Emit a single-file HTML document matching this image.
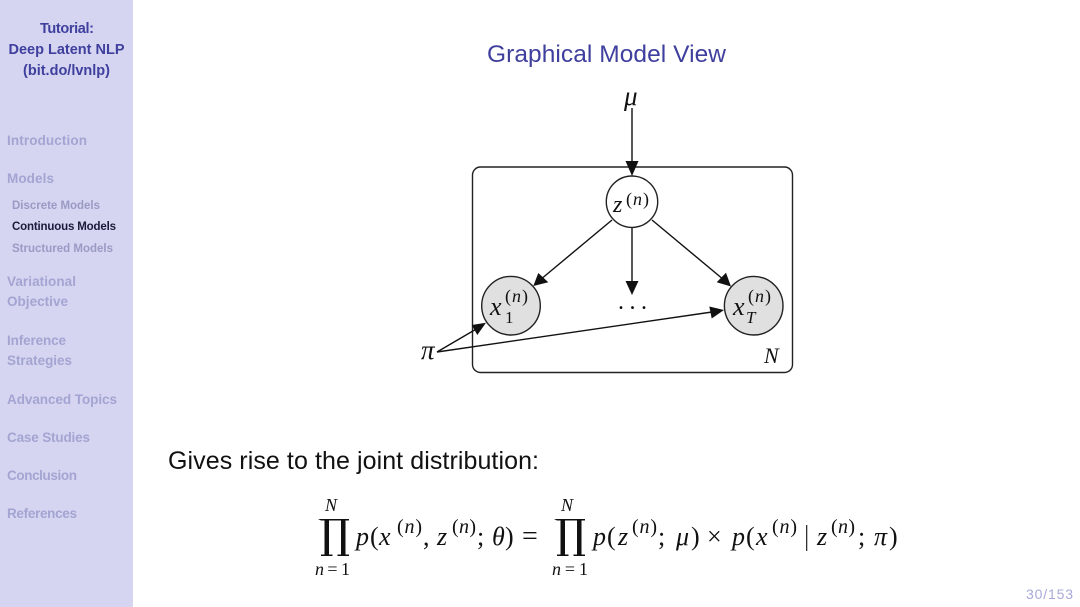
<!DOCTYPE html>
<html><head><meta charset="utf-8"><style>
html,body{margin:0;padding:0;background:#fff}
svg{display:block}
.s{font-family:"Liberation Sans",sans-serif}
.n{font-size:13.500px;font-weight:bold;fill:#a4a4d2}
.u{font-size:11.500px;font-weight:bold;fill:#9a9ac4}
.m{font-family:"Liberation Serif",serif;font-style:italic;fill:#111}
.r{font-family:"Liberation Serif",serif;fill:#111}
</style></head><body>
<svg width="1080" height="607" viewBox="0 0 1080 607" xmlns="http://www.w3.org/2000/svg">
<rect width="1080" height="607" fill="#fff"/>
<rect width="133" height="607" fill="#d5d5f1"/>
<g class="s" font-size="14.500" font-weight="bold" fill="#3f3f9e">
<text x="40" y="33" textLength="54">Tutorial:</text>
<text x="8.500" y="54" textLength="116">Deep Latent NLP</text>
<text x="23" y="75" textLength="87">(bit.do/lvnlp)</text></g>
<g class="s">
<text class="n" x="7" y="145" textLength="80">Introduction</text>
<text class="n" x="7" y="183" textLength="47">Models</text>
<text class="u" x="12" y="209" textLength="88">Discrete Models</text>
<text class="u" x="12" y="230" textLength="104" style="fill:#1a1a3a">Continuous Models</text>
<text class="u" x="12" y="252" textLength="101">Structured Models</text>
<text class="n" x="7" y="286" textLength="69">Variational</text>
<text class="n" x="7" y="306" textLength="61">Objective</text>
<text class="n" x="7" y="345" textLength="59">Inference</text>
<text class="n" x="7" y="365" textLength="65">Strategies</text>
<text class="n" x="7" y="404" textLength="110">Advanced Topics</text>
<text class="n" x="7" y="442" textLength="83">Case Studies</text>
<text class="n" x="7" y="480" textLength="70">Conclusion</text>
<text class="n" x="7" y="518" textLength="70">References</text>
</g>
<text class="s" x="487" y="62" font-size="24.500" fill="#3f3f9e" textLength="239">Graphical Model View</text>
<text class="s" x="168" y="469" font-size="25" fill="#111" textLength="371">Gives rise to the joint distribution:</text>
<text class="s" x="1026" y="599" font-size="14" fill="#a8a8d8" textLength="47">30/153</text>

<!-- diagram -->
<rect x="472.500" y="167" width="320" height="205.500" rx="8" fill="none" stroke="#222" stroke-width="1.400"/>
<circle cx="632" cy="201.700" r="25.700" fill="#fff" stroke="#222" stroke-width="1.400"/>
<circle cx="511" cy="305.700" r="29.300" fill="#e0e0e0" stroke="#222" stroke-width="1.400"/>
<circle cx="753.700" cy="305.700" r="29.300" fill="#e0e0e0" stroke="#222" stroke-width="1.400"/>
<g stroke="#111" stroke-width="1.400" fill="none">
<line x1="632" y1="108" x2="632" y2="165"/>
<line x1="612" y1="220" x2="540" y2="280"/>
<line x1="632" y1="228" x2="632" y2="285"/>
<line x1="652" y1="220" x2="724" y2="280"/>
<line x1="437" y1="352" x2="478" y2="328"/>
<line x1="437" y1="352" x2="712" y2="312"/>
</g>
<g fill="#111">
<polygon points="632,176 625.500,161 638.500,161"/>
<polygon points="533.300,286 538.300,273 548.300,282.300"/>
<polygon points="632,295 625.500,281 638.500,281"/>
<polygon points="731,286.500 716.700,282.300 726,272.700"/>
<polygon points="486,322.700 471.700,325 477.300,335"/>
<polygon points="724,310 709.300,306.500 711.700,318.500"/>
</g>
<text class="m" x="624" y="105" font-size="27">μ</text>
<text class="m" x="421" y="359" font-size="27">π</text>
<text class="m" x="764" y="363" font-size="22" textLength="17">N</text>
<text class="r" x="618" y="309" font-size="24" letter-spacing="5.500">...</text>
<text class="m" x="613" y="212" font-size="24">z</text>
<text class="r" x="626" y="205" font-size="18" textLength="23">(<tspan font-style="italic">n</tspan>)</text>
<text class="m" x="490" y="315" font-size="26">x</text>
<text class="r" x="505" y="302" font-size="18" textLength="23">(<tspan font-style="italic">n</tspan>)</text>
<text class="r" x="505" y="323" font-size="17">1</text>
<text class="m" x="733" y="315" font-size="26">x</text>
<text class="r" x="748" y="302" font-size="18" textLength="23">(<tspan font-style="italic">n</tspan>)</text>
<text class="m" x="746" y="323" font-size="17">T</text>

<!-- formula -->
<g class="r" font-size="26">
<text class="m" x="325" y="511" font-size="18" textLength="16">N</text>
<text class="m" x="561" y="511" font-size="18" textLength="16">N</text>
<path d="M318 519h31v1.500h-3.500v34h3.500v1.500h-11.500v-1.500h3.500v-34h-12v34h3.500v1.500h-11.500v-1.500h3.500v-34h-3.500z" fill="#111"/>
<path d="M554 519h31v1.500h-3.500v34h3.500v1.500h-11.500v-1.500h3.500v-34h-12v34h3.500v1.500h-11.500v-1.500h3.500v-34h-3.500z" fill="#111"/>
<text x="315" y="575" font-size="18" textLength="35"><tspan font-style="italic">n</tspan>=1</text>
<text x="552" y="575" font-size="18" textLength="36"><tspan font-style="italic">n</tspan>=1</text>

<text class="m" x="356" y="545">p</text>
<text x="370" y="545">(</text>
<text class="m" x="379" y="545" textLength="15">x</text>
<text x="397" y="533" font-size="20" textLength="25">(<tspan font-style="italic">n</tspan>)</text>
<text x="423" y="545">,</text>
<text class="m" x="437" y="545" textLength="13">z</text>
<text x="452" y="533" font-size="20" textLength="24">(<tspan font-style="italic">n</tspan>)</text>
<text x="477" y="545">;</text>
<text class="m" x="492" y="545">θ</text>
<text x="505" y="545">)</text>
<text x="522" y="545" font-size="28">=</text>

<text class="m" x="593" y="545">p</text>
<text x="607" y="545">(</text>
<text class="m" x="618" y="545" textLength="13">z</text>
<text x="632" y="533" font-size="20" textLength="25">(<tspan font-style="italic">n</tspan>)</text>
<text x="658" y="545">;</text>
<text class="m" x="676" y="545">μ</text>
<text x="691" y="545">)</text>
<text x="707" y="545">×</text>
<text class="m" x="732" y="545">p</text>
<text x="746" y="545">(</text>
<text class="m" x="756" y="545" textLength="15">x</text>
<text x="772" y="533" font-size="20" textLength="25">(<tspan font-style="italic">n</tspan>)</text>
<rect x="806" y="525" width="1.300" height="26" fill="#333"/>
<text class="m" x="817" y="545" textLength="13">z</text>
<text x="831" y="533" font-size="20" textLength="24">(<tspan font-style="italic">n</tspan>)</text>
<text x="858" y="545">;</text>
<text class="m" x="874" y="545">π</text>
<text x="889" y="545">)</text>
</g>
</svg>
</body></html>
